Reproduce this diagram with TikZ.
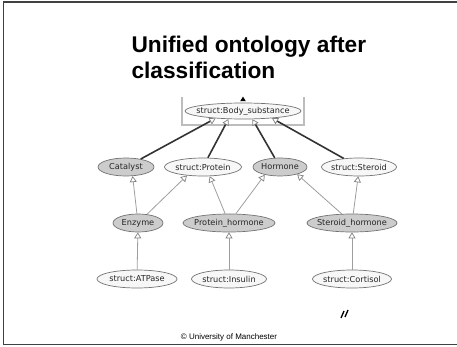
\documentclass[tikz,border=0pt]{standalone}
\usepackage{fontspec}
\setmainfont{Liberation Sans}
\newfontfamily\classfont{DejaVu Sans}
\usetikzlibrary{shapes.geometric,arrows.meta,calc}

\definecolor{nodeline}{gray}{0.45}
\definecolor{inferredfill}{gray}{0.80}
\definecolor{assertedfill}{gray}{0.97}
\definecolor{thinedge}{gray}{0.62}
\definecolor{thickedge}{gray}{0.20}
\definecolor{tipline}{gray}{0.50}
\definecolor{boxgray}{gray}{0.74}
\definecolor{framedark}{gray}{0.25}

\begin{document}
\begin{tikzpicture}[x=1pt,y=-1pt,
  cls/.style={ellipse, draw=nodeline, line width=0.7pt, inner ysep=0pt,
    inner xsep=-8pt, minimum height=18pt, text=black!85,
    font=\classfont\fontsize{8.2}{9}\selectfont},
  inferred/.style={cls, fill=inferredfill},
  asserted/.style={cls, fill=assertedfill},
  opentip/.style={-{Triangle[length=6pt, width=7pt, fill=white, color=tipline, line width=0.7pt]}},
  weak/.style={draw=thinedge, line width=0.8pt, opentip},
  strong/.style={draw=thickedge, line width=1.6pt, opentip},
  titletext/.style={anchor=base west, font=\bfseries\fontsize{22.7}{26}\selectfont},
]
\useasboundingbox (0,0) rectangle (457,347);

% slide frame
\draw[framedark, line width=1.2pt] (3.5,345) -- (3.5,2) -- (457,2);
\draw[framedark, line width=1.6pt] (3,344.5) -- (457,344.5);

% title
\node[titletext] (title1) at (128,53) {Unified ontology after};
\node[titletext] (title2) at (128,79) {classification};

% bracket around the root class
\draw[boxgray, line width=2pt] (182,97) -- (182,125) -- (304,125) -- (304,97);

% classes
\node[asserted, minimum width=116pt, minimum height=16pt] (body) at (243,111) {struct:Body\_substance};

\node[inferred, minimum width=56pt] (cat)  at (126,167) {Catalyst};
\node[asserted, minimum width=77pt] (prot) at (203,167) {struct:Protein};
\node[inferred, minimum width=54pt] (horm) at (280,167) {Hormone};
\node[asserted, minimum width=75pt] (ster) at (359,167) {struct:Steroid};

\node[inferred, minimum width=50pt] (enz)   at (138,223) {Enzyme};
\node[inferred, minimum width=92pt] (phorm) at (229,223) {Protein\_hormone};
\node[inferred, minimum width=90pt] (shorm) at (352,223) {Steroid\_hormone};

\node[asserted, minimum width=80pt] (atp)  at (137,279) {struct:ATPase};
\node[asserted, minimum width=75pt] (ins)  at (229,279) {struct:Insulin};
\node[asserted, minimum width=79pt] (cort) at (352,279) {struct:Cortisol};

% collapse marker above the root
\fill[black] ($(body.north)+(0,-6)$) -- ++(2.8,4.5) -- ++(-5.6,0) -- cycle;

% subclass links
\draw[strong] (cat)  -- (body.195);
\draw[strong] (prot) -- (body.209);
\draw[strong] (horm) -- (body.319);
\draw[strong] (ster) -- (body.346);

\draw[weak] (enz)   -- (cat.306);
\draw[weak] (enz)   -- (prot.208);
\draw[weak] (phorm) -- (prot.306);
\draw[weak] (phorm) -- (horm.207);
\draw[weak] (shorm) -- (horm.337);
\draw[weak] (shorm) -- (ster.265);

\draw[weak] (atp)  -- (enz);
\draw[weak] (ins)  -- (phorm);
\draw[weak] (cort) -- (shorm);

% footer
\node[anchor=base, font=\fontsize{8}{10}\selectfont] (copy) at (229,339) {\textcopyright{} University of Manchester};
\draw[line width=1.3pt] (341,318) -- (344,311);
\draw[line width=1.3pt] (345,317) -- (348,310);
\end{tikzpicture}
\end{document}
